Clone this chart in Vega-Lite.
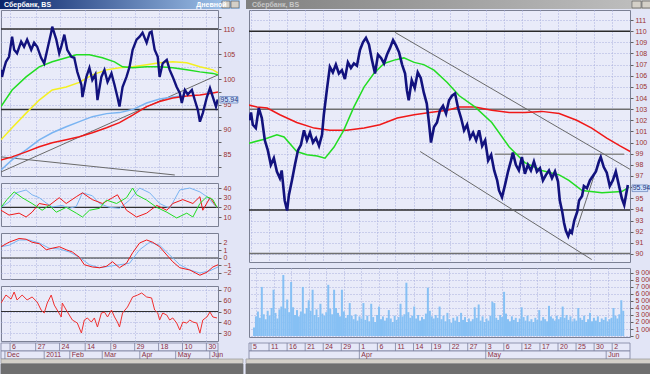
{
"$schema": "https://vega.github.io/schema/vega-lite/v6.json",
"background": "#e2e5f6",
"padding": 0,
"spacing": 1,
"config": {
  "view": {"fill": "#e9ebf9", "stroke": "#7b8094", "strokeWidth": 1},
  "axis": {"labelFont": "Liberation Sans", "labelFontSize": 7, "labelColor": "#9a3030", "tickColor": "#606060", "tickSize": 3, "domain": false, "gridColor": "#a9afdc", "gridDash": [1, 2], "gridWidth": 1, "labelPadding": 2, "title": null},
  "text": {"font": "Liberation Sans"}
},
"datasets": {
  "lh": [{"t":-6,"v":110,"g":"a"},{"t":123,"v":110,"g":"a"},{"t":-6,"v":94,"g":"b"},{"t":123,"v":94,"g":"b"}],
  "ltr": [{"t":-5.3,"v":81.6,"g":"c"},{"t":121.8,"v":100.9,"g":"c"},{"t":-5.3,"v":84.6,"g":"d"},{"t":96.5,"v":81.0,"g":"d"}],
  "lp": [{"t":-5.3,"v":101.9},{"t":-4.7,"v":100.5},{"t":-3.5,"v":102.2},{"t":-2.4,"v":103.5},{"t":-0.6,"v":104.5},{"t":1.2,"v":108.5},{"t":2.4,"v":105.9},{"t":4.1,"v":105.2},{"t":6.5,"v":107.5},{"t":8.2,"v":106.5},{"t":10.0,"v":107.9},{"t":12.4,"v":105.9},{"t":14.1,"v":107.3},{"t":15.9,"v":106.5},{"t":18.2,"v":104.3},{"t":20.0,"v":103.2},{"t":21.8,"v":105.9},{"t":24.1,"v":109.3},{"t":24.7,"v":110.5},{"t":27.1,"v":107.9},{"t":28.8,"v":105.2},{"t":30.0,"v":106.5},{"t":31.8,"v":108.9},{"t":33.5,"v":105.9},{"t":35.9,"v":104.5},{"t":37.6,"v":104.3},{"t":39.4,"v":101.5},{"t":41.8,"v":98.9},{"t":42.4,"v":96.5},{"t":44.7,"v":100.5},{"t":46.5,"v":102.3},{"t":48.2,"v":99.9},{"t":50.0,"v":101.0},{"t":51.2,"v":95.9},{"t":53.5,"v":100.5},{"t":55.3,"v":101.9},{"t":57.1,"v":99.5},{"t":59.4,"v":101.2},{"t":61.2,"v":98.9},{"t":62.9,"v":96.5},{"t":64.1,"v":94.6},{"t":65.9,"v":98.5},{"t":68.2,"v":100.5},{"t":70.0,"v":102.5},{"t":71.8,"v":105.9},{"t":74.1,"v":107.9},{"t":75.9,"v":108.5},{"t":77.6,"v":109.3},{"t":80.0,"v":107.3},{"t":81.8,"v":109.3},{"t":82.9,"v":109.5},{"t":84.7,"v":105.9},{"t":86.5,"v":104.5},{"t":87.6,"v":100.5},{"t":89.4,"v":103.2},{"t":91.8,"v":103.9},{"t":93.5,"v":101.9},{"t":95.3,"v":100.5},{"t":97.6,"v":98.5},{"t":99.4,"v":97.3},{"t":100.6,"v":95.3},{"t":102.4,"v":97.9},{"t":104.1,"v":97.0},{"t":106.5,"v":97.9},{"t":108.2,"v":95.9},{"t":110.0,"v":93.9},{"t":111.2,"v":91.6},{"t":112.9,"v":93.3},{"t":115.3,"v":96.5},{"t":117.1,"v":98.3},{"t":118.8,"v":96.5},{"t":120.6,"v":94.6},{"t":121.6,"v":96.0}],
  "lma": [
    {"s":"lb","t":-5.3,"v":82},{"s":"lb","t":1.2,"v":84},{"s":"lb","t":9.4,"v":86},{"s":"lb","t":17.1,"v":88},{"s":"lb","t":24.7,"v":89.4},{"s":"lb","t":32.9,"v":90.6},{"s":"lb","t":40.6,"v":91.6},{"s":"lb","t":48.2,"v":92.6},{"s":"lb","t":56.5,"v":93.2},{"s":"lb","t":64.1,"v":93.4},{"s":"lb","t":71.8,"v":94},{"s":"lb","t":80,"v":95.3},{"s":"lb","t":87.6,"v":96.1},{"s":"lb","t":95.3,"v":96.5},{"s":"lb","t":102.4,"v":96.8},
    {"s":"r","t":-5.3,"v":84},{"s":"r","t":1.2,"v":84.6},{"s":"r","t":9.4,"v":85.6},{"s":"r","t":17.1,"v":86.6},{"s":"r","t":24.7,"v":87.4},{"s":"r","t":32.9,"v":88},{"s":"r","t":40.6,"v":88.6},{"s":"r","t":48.2,"v":89.4},{"s":"r","t":56.5,"v":90.4},{"s":"r","t":64.1,"v":91.4},{"s":"r","t":71.8,"v":92.9},{"s":"r","t":80,"v":94.6},{"s":"r","t":87.6,"v":95.6},{"s":"r","t":95.3,"v":96.3},{"s":"r","t":103.5,"v":96.7},{"s":"r","t":111.2,"v":96.9},{"s":"r","t":118.8,"v":97.3},{"s":"r","t":121.8,"v":97.5},
    {"s":"y","t":-5.3,"v":88},{"s":"y","t":1.2,"v":90.4},{"s":"y","t":9.4,"v":93.3},{"s":"y","t":17.1,"v":95.9},{"s":"y","t":24.7,"v":97.9},{"s":"y","t":32.9,"v":98.5},{"s":"y","t":40.6,"v":99.4},{"s":"y","t":48.2,"v":100.9},{"s":"y","t":56.5,"v":101.9},{"s":"y","t":64.1,"v":102.3},{"s":"y","t":71.8,"v":102.5},{"s":"y","t":80,"v":102.9},{"s":"y","t":87.6,"v":103.3},{"s":"y","t":95.3,"v":103.5},{"s":"y","t":103.5,"v":103.3},{"s":"y","t":111.2,"v":102.5},{"s":"y","t":118.8,"v":101.9},{"s":"y","t":121.8,"v":101.3},
    {"s":"g","t":-5.3,"v":94.6},{"s":"g","t":1.2,"v":97.9},{"s":"g","t":9.4,"v":100.5},{"s":"g","t":17.1,"v":102.5},{"s":"g","t":24.7,"v":103.5},{"s":"g","t":32.9,"v":104.3},{"s":"g","t":38.8,"v":104.9},{"s":"g","t":46.5,"v":104.9},{"s":"g","t":54.1,"v":104.3},{"s":"g","t":61.2,"v":103.5},{"s":"g","t":65.9,"v":102.5},{"s":"g","t":71.8,"v":102.3},{"s":"g","t":80,"v":102.5},{"s":"g","t":87.6,"v":102.5},{"s":"g","t":95.3,"v":102.3},{"s":"g","t":103.5,"v":101.9},{"s":"g","t":111.2,"v":101.5},{"s":"g","t":118.8,"v":101.2},{"s":"g","t":121.8,"v":100.9}
  ],
  "rsi3": [
    {"s":"b","t":-5.3,"v":20},{"s":"b","t":-0.6,"v":25.5},{"s":"b","t":3.5,"v":35},{"s":"b","t":9.4,"v":38},{"s":"b","t":12.9,"v":33},{"s":"b","t":17.1,"v":30},{"s":"b","t":21.2,"v":24.5},{"s":"b","t":24.7,"v":20.4},{"s":"b","t":30.6,"v":22},{"s":"b","t":34.7,"v":19},{"s":"b","t":38.8,"v":21},{"s":"b","t":42.4,"v":35},{"s":"b","t":48.2,"v":32},{"s":"b","t":52.4,"v":24},{"s":"b","t":58.2,"v":20},{"s":"b","t":64.1,"v":19},{"s":"b","t":70,"v":27.5},{"s":"b","t":75.9,"v":40},{"s":"b","t":81.8,"v":35},{"s":"b","t":87.6,"v":24},{"s":"b","t":93.5,"v":19},{"s":"b","t":99.4,"v":38},{"s":"b","t":105.3,"v":40},{"s":"b","t":111.2,"v":36},{"s":"b","t":115.3,"v":31},{"s":"b","t":118.8,"v":24},{"s":"b","t":121.2,"v":20},
    {"s":"r","t":-5.3,"v":17},{"s":"r","t":-0.6,"v":12},{"s":"r","t":5.3,"v":14},{"s":"r","t":9.4,"v":10},{"s":"r","t":12.9,"v":15},{"s":"r","t":17.1,"v":24},{"s":"r","t":22.9,"v":22},{"s":"r","t":28.8,"v":30},{"s":"r","t":32.9,"v":24},{"s":"r","t":38.8,"v":31},{"s":"r","t":42.4,"v":35},{"s":"r","t":48.2,"v":28},{"s":"r","t":54.1,"v":24},{"s":"r","t":60,"v":30},{"s":"r","t":62.9,"v":33},{"s":"r","t":68.2,"v":17},{"s":"r","t":74.1,"v":10},{"s":"r","t":80,"v":14},{"s":"r","t":85.9,"v":22},{"s":"r","t":91.8,"v":17},{"s":"r","t":95.3,"v":24},{"s":"r","t":101.2,"v":28},{"s":"r","t":107.1,"v":24},{"s":"r","t":111.2,"v":31},{"s":"r","t":112.9,"v":17},{"s":"r","t":117.1,"v":30},{"s":"r","t":121.2,"v":20},
    {"s":"g","t":-5.3,"v":20},{"s":"g","t":-1.8,"v":28},{"s":"g","t":2.4,"v":36},{"s":"g","t":7.1,"v":30},{"s":"g","t":12.9,"v":24},{"s":"g","t":18.8,"v":17},{"s":"g","t":22.9,"v":22},{"s":"g","t":27.1,"v":15},{"s":"g","t":32.9,"v":20},{"s":"g","t":38.8,"v":14},{"s":"g","t":42.4,"v":10},{"s":"g","t":46.5,"v":17},{"s":"g","t":52.4,"v":19},{"s":"g","t":56.5,"v":27.5},{"s":"g","t":62.4,"v":24},{"s":"g","t":68.2,"v":30},{"s":"g","t":71.8,"v":40},{"s":"g","t":74.1,"v":33},{"s":"g","t":80,"v":27.5},{"s":"g","t":85.9,"v":20},{"s":"g","t":91.8,"v":15},{"s":"g","t":97.6,"v":9},{"s":"g","t":103.5,"v":14},{"s":"g","t":107.1,"v":10},{"s":"g","t":111.2,"v":24},{"s":"g","t":115.3,"v":31},{"s":"g","t":118.8,"v":28},{"s":"g","t":121.2,"v":20}
  ],
  "macd": [
    {"s":"b","t":-5.3,"v":1.5},{"s":"b","t":-0.6,"v":1.7},{"s":"b","t":5.3,"v":2.4},{"s":"b","t":11.2,"v":2.4},{"s":"b","t":17.1,"v":2.0},{"s":"b","t":22.9,"v":1.3},{"s":"b","t":28.8,"v":1.2},{"s":"b","t":34.7,"v":0.8},{"s":"b","t":40.6,"v":0.1},{"s":"b","t":46.5,"v":-0.9},{"s":"b","t":52.4,"v":-1.3},{"s":"b","t":58.2,"v":-1.1},{"s":"b","t":64.1,"v":-0.9},{"s":"b","t":70,"v":-0.7},{"s":"b","t":75.9,"v":1.1},{"s":"b","t":81.8,"v":2.1},{"s":"b","t":87.6,"v":1.7},{"s":"b","t":93.5,"v":0.4},{"s":"b","t":99.4,"v":-0.9},{"s":"b","t":105.3,"v":-1.6},{"s":"b","t":111.2,"v":-2.0},{"s":"b","t":117.1,"v":-1.7},{"s":"b","t":121.8,"v":-1.2},
    {"s":"r","t":-5.3,"v":1.5},{"s":"r","t":-0.6,"v":2.1},{"s":"r","t":5.3,"v":2.6},{"s":"r","t":9.4,"v":2.5},{"s":"r","t":12.9,"v":2.1},{"s":"r","t":17.1,"v":1.9},{"s":"r","t":21.2,"v":1.1},{"s":"r","t":24.7,"v":1.3},{"s":"r","t":28.8,"v":1.5},{"s":"r","t":32.9,"v":1.1},{"s":"r","t":36.5,"v":0.8},{"s":"r","t":40.6,"v":0.1},{"s":"r","t":43.5,"v":-0.9},{"s":"r","t":48.2,"v":-1.2},{"s":"r","t":52.4,"v":-1.3},{"s":"r","t":56.5,"v":-1.1},{"s":"r","t":60,"v":-0.5},{"s":"r","t":64.1,"v":-1.3},{"s":"r","t":68.2,"v":-0.7},{"s":"r","t":71.8,"v":0.7},{"s":"r","t":75.9,"v":2.0},{"s":"r","t":80,"v":2.4},{"s":"r","t":83.5,"v":2.1},{"s":"r","t":87.6,"v":1.5},{"s":"r","t":91.8,"v":0.4},{"s":"r","t":95.3,"v":-0.5},{"s":"r","t":99.4,"v":-1.3},{"s":"r","t":105.3,"v":-1.6},{"s":"r","t":111.2,"v":-2.3},{"s":"r","t":115.3,"v":-1.9},{"s":"r","t":118.8,"v":-1.2},{"s":"r","t":121.8,"v":-0.9}
  ],
  "rsi2": [{"t":-5.3,"v":57.9},{"t":-2.4,"v":65.3},{"t":0.6,"v":61.6},{"t":2.4,"v":68.1},{"t":4.1,"v":60.7},{"t":7.1,"v":65.3},{"t":10,"v":60.7},{"t":12.9,"v":63.5},{"t":15.9,"v":58.8},{"t":18.2,"v":51.4},{"t":20,"v":48.6},{"t":21.8,"v":57.9},{"t":24.1,"v":65.3},{"t":25.9,"v":56},{"t":27.6,"v":51.4},{"t":30,"v":44.9},{"t":30.6,"v":57.9},{"t":32.9,"v":51.4},{"t":34.7,"v":46.7},{"t":36.5,"v":42.1},{"t":39.4,"v":39.3},{"t":41.8,"v":30},{"t":43.5,"v":42.1},{"t":45.3,"v":44},{"t":47.6,"v":40.2},{"t":49.4,"v":44},{"t":51.2,"v":35.6},{"t":53.5,"v":48.6},{"t":55.3,"v":49.5},{"t":57.1,"v":44.9},{"t":59.4,"v":51.4},{"t":61.2,"v":44.9},{"t":62.9,"v":40.2},{"t":64.1,"v":35.6},{"t":65.9,"v":48.6},{"t":68.8,"v":54.2},{"t":71.8,"v":63.5},{"t":74.7,"v":65.3},{"t":77.1,"v":67.2},{"t":80,"v":63.5},{"t":82.9,"v":62.6},{"t":84.7,"v":51.4},{"t":86.5,"v":48.6},{"t":87.6,"v":42.1},{"t":89.4,"v":48.6},{"t":91.8,"v":46.7},{"t":93.5,"v":42.1},{"t":95.3,"v":44},{"t":97.6,"v":39.3},{"t":99.4,"v":32.8},{"t":101.2,"v":40.2},{"t":103.5,"v":39.3},{"t":105.3,"v":42.1},{"t":107.1,"v":40.2},{"t":109.4,"v":39.3},{"t":111.2,"v":30},{"t":112.9,"v":42.1},{"t":115.3,"v":44.9},{"t":117.1,"v":49.5},{"t":118.8,"v":44.9},{"t":121.2,"v":44}],
  "rp": [{"t":-0.3,"v":102.0},{"t":0,"v":102.7},{"t":0.3,"v":101.6},{"t":0.8,"v":101.3},{"t":1.3,"v":103.1},{"t":1.8,"v":102.2},{"t":2.3,"v":100.2},{"t":2.8,"v":99.3},{"t":3.3,"v":98.0},{"t":3.8,"v":98.6},{"t":4.3,"v":97.4},{"t":4.8,"v":96.8},{"t":5.1,"v":97.5},{"t":5.6,"v":94.8},{"t":6.0,"v":93.9},{"t":6.3,"v":95.3},{"t":6.8,"v":96.6},{"t":7.3,"v":98.0},{"t":7.8,"v":99.3},{"t":8.3,"v":99.8},{"t":8.8,"v":101.1},{"t":9.3,"v":100.2},{"t":9.8,"v":100.9},{"t":10.3,"v":100.0},{"t":10.8,"v":100.4},{"t":11.3,"v":99.7},{"t":11.8,"v":100.7},{"t":12.1,"v":102.5},{"t":12.6,"v":104.7},{"t":13.1,"v":106.8},{"t":13.6,"v":106.3},{"t":14.1,"v":107.0},{"t":14.6,"v":106.2},{"t":15.1,"v":106.5},{"t":15.6,"v":105.7},{"t":16.1,"v":107.2},{"t":16.6,"v":106.7},{"t":17.1,"v":107.1},{"t":17.6,"v":106.9},{"t":18.1,"v":108.3},{"t":18.6,"v":109.0},{"t":19.1,"v":109.4},{"t":19.6,"v":108.8},{"t":20.1,"v":107.4},{"t":20.6,"v":106.2},{"t":21.1,"v":107.9},{"t":21.6,"v":107.6},{"t":22.1,"v":107.1},{"t":22.6,"v":107.9},{"t":23.1,"v":108.5},{"t":23.6,"v":109.2},{"t":24.1,"v":108.7},{"t":24.6,"v":108.1},{"t":25.1,"v":107.0},{"t":25.6,"v":106.2},{"t":25.9,"v":104.7},{"t":26.2,"v":103.8},{"t":26.7,"v":105.6},{"t":27.2,"v":104.9},{"t":27.7,"v":106.3},{"t":28.2,"v":105.8},{"t":28.7,"v":104.5},{"t":29.2,"v":103.5},{"t":29.6,"v":101.6},{"t":29.9,"v":100.0},{"t":30.4,"v":101.4},{"t":30.9,"v":101.8},{"t":31.4,"v":102.9},{"t":31.9,"v":103.3},{"t":32.4,"v":102.6},{"t":32.9,"v":103.8},{"t":33.4,"v":104.2},{"t":33.9,"v":104.4},{"t":34.4,"v":103.1},{"t":34.9,"v":102.2},{"t":35.4,"v":101.1},{"t":35.9,"v":101.6},{"t":36.4,"v":100.4},{"t":36.9,"v":100.9},{"t":37.4,"v":100.2},{"t":37.9,"v":101.1},{"t":38.4,"v":99.7},{"t":38.9,"v":100.2},{"t":39.4,"v":98.4},{"t":39.9,"v":98.9},{"t":40.4,"v":97.5},{"t":40.9,"v":96.6},{"t":41.2,"v":95.7},{"t":41.7,"v":95.1},{"t":42.2,"v":96.2},{"t":42.7,"v":97.4},{"t":43.2,"v":98.4},{"t":43.5,"v":99.1},{"t":44.0,"v":98.0},{"t":44.5,"v":97.5},{"t":45.0,"v":98.7},{"t":45.5,"v":97.2},{"t":46.0,"v":98.0},{"t":46.5,"v":97.5},{"t":47.0,"v":98.3},{"t":47.5,"v":97.4},{"t":48.0,"v":97.7},{"t":48.5,"v":96.6},{"t":49.0,"v":97.1},{"t":49.5,"v":97.5},{"t":50.0,"v":96.8},{"t":50.5,"v":97.4},{"t":51.0,"v":96.5},{"t":51.3,"v":94.8},{"t":51.7,"v":93.8},{"t":52.0,"v":92.8},{"t":52.3,"v":92.1},{"t":52.7,"v":91.6},{"t":53.0,"v":92.1},{"t":53.3,"v":91.9},{"t":53.7,"v":93.0},{"t":54.2,"v":93.8},{"t":54.5,"v":94.8},{"t":55.0,"v":95.2},{"t":55.3,"v":96.1},{"t":55.8,"v":95.9},{"t":56.3,"v":96.6},{"t":56.8,"v":97.0},{"t":57.3,"v":97.4},{"t":57.8,"v":98.3},{"t":58.1,"v":98.7},{"t":58.6,"v":97.8},{"t":59.1,"v":97.3},{"t":59.6,"v":96.1},{"t":60.1,"v":96.6},{"t":60.6,"v":97.4},{"t":61.1,"v":96.2},{"t":61.6,"v":95.0},{"t":62.0,"v":94.4},{"t":62.3,"v":95.3},{"t":62.6,"v":96.2}],
  "rma": [
    {"s":"r","t":-0.66,"v":103.4},{"s":"r","t":1.0,"v":103.2},{"s":"r","t":2.7,"v":103.1},{"s":"r","t":4.8,"v":102.5},{"s":"r","t":7.6,"v":101.8},{"s":"r","t":10.5,"v":101.3},{"s":"r","t":13.1,"v":101.1},{"s":"r","t":15.9,"v":101.1},{"s":"r","t":18.8,"v":101.3},{"s":"r","t":21.4,"v":101.6},{"s":"r","t":24.3,"v":102.2},{"s":"r","t":27.1,"v":102.5},{"s":"r","t":29.7,"v":102.7},{"s":"r","t":32.6,"v":102.9},{"s":"r","t":34.6,"v":103.2},{"s":"r","t":37.2,"v":103.2},{"s":"r","t":40.0,"v":102.9},{"s":"r","t":42.9,"v":102.7},{"s":"r","t":45.5,"v":102.7},{"s":"r","t":48.3,"v":102.8},{"s":"r","t":51.2,"v":102.6},{"s":"r","t":54.1,"v":102.0},{"s":"r","t":56.6,"v":101.3},{"s":"r","t":59.1,"v":100.4},{"s":"r","t":61.3,"v":99.7},{"s":"r","t":63.0,"v":99.2},
    {"s":"g","t":-0.66,"v":99.9},{"s":"g","t":2.2,"v":100.3},{"s":"g","t":4.3,"v":100.7},{"s":"g","t":5.5,"v":100.5},{"s":"g","t":7.6,"v":99.2},{"s":"g","t":9.3,"v":98.9},{"s":"g","t":11.0,"v":98.8},{"s":"g","t":12.3,"v":98.6},{"s":"g","t":13.8,"v":99.6},{"s":"g","t":15.4,"v":101.1},{"s":"g","t":17.1,"v":103.2},{"s":"g","t":18.8,"v":105.0},{"s":"g","t":20.4,"v":106.2},{"s":"g","t":22.1,"v":107.1},{"s":"g","t":23.8,"v":107.4},{"s":"g","t":25.4,"v":107.6},{"s":"g","t":27.1,"v":107.2},{"s":"g","t":28.7,"v":107.0},{"s":"g","t":30.4,"v":106.5},{"s":"g","t":32.6,"v":105.4},{"s":"g","t":34.6,"v":104.2},{"s":"g","t":37.2,"v":103.2},{"s":"g","t":40.0,"v":101.8},{"s":"g","t":42.9,"v":99.6},{"s":"g","t":45.5,"v":98.2},{"s":"g","t":48.3,"v":97.5},{"s":"g","t":51.2,"v":97.1},{"s":"g","t":52.8,"v":96.6},{"s":"g","t":55.0,"v":95.7},{"s":"g","t":58.3,"v":95.5},{"s":"g","t":61.6,"v":95.6},{"s":"g","t":62.8,"v":96.0}
  ],
  "rh": [{"t":-1,"v":110,"g":"a","c":"#2a2a2a"},{"t":64,"v":110,"g":"a","c":"#2a2a2a"},{"t":-1,"v":103,"g":"b","c":"#707070"},{"t":64,"v":103,"g":"b","c":"#707070"},{"t":-1,"v":93.95,"g":"c","c":"#2a2a2a"},{"t":64,"v":93.95,"g":"c","c":"#2a2a2a"},{"t":-1,"v":90.05,"g":"d","c":"#707070"},{"t":64,"v":90.05,"g":"d","c":"#707070"},{"t":40.5,"v":98.95,"g":"e","c":"#8a8a8a"},{"t":62,"v":98.95,"g":"e","c":"#8a8a8a"}],
  "rtr": [{"t":23.9,"v":109.9,"g":"u"},{"t":62.96,"v":97.6,"g":"u"},{"t":28.1,"v":99.2,"g":"l"},{"t":56.6,"v":89.5,"g":"l"},{"t":54.2,"v":92.4,"g":"s"},{"t":58.0,"v":98.7,"g":"s"}],
  "vol": [{"k":-1,"v":1.2},{"k":0,"v":2.8},{"k":1,"v":3.5},{"k":2,"v":2.6},{"k":3,"v":7.0},{"k":4,"v":3.1},{"k":5,"v":2.4},{"k":6,"v":3.6},{"k":7,"v":2.9},{"k":8,"v":4.0},{"k":9,"v":6.6},{"k":10,"v":3.3},{"k":11,"v":2.5},{"k":12,"v":3.8},{"k":13,"v":4.2},{"k":14,"v":8.7},{"k":15,"v":3.9},{"k":16,"v":5.2},{"k":17,"v":3.4},{"k":18,"v":7.7},{"k":19,"v":4.1},{"k":20,"v":3.0},{"k":21,"v":3.7},{"k":22,"v":2.8},{"k":23,"v":3.5},{"k":24,"v":7.0},{"k":25,"v":3.2},{"k":26,"v":4.0},{"k":27,"v":5.1},{"k":28,"v":3.6},{"k":29,"v":6.6},{"k":30,"v":3.0},{"k":31,"v":3.8},{"k":32,"v":2.7},{"k":33,"v":4.6},{"k":34,"v":3.2},{"k":35,"v":2.9},{"k":36,"v":3.4},{"k":37,"v":7.3},{"k":38,"v":3.9},{"k":39,"v":3.1},{"k":40,"v":6.6},{"k":41,"v":4.0},{"k":42,"v":3.3},{"k":43,"v":2.8},{"k":44,"v":6.6},{"k":45,"v":3.5},{"k":46,"v":2.6},{"k":47,"v":3.0},{"k":48,"v":4.7},{"k":49,"v":2.9},{"k":50,"v":2.4},{"k":51,"v":3.1},{"k":52,"v":2.2},{"k":53,"v":2.8},{"k":54,"v":2.5},{"k":55,"v":4.7},{"k":56,"v":2.3},{"k":57,"v":2.9},{"k":58,"v":2.1},{"k":59,"v":4.6},{"k":60,"v":2.7},{"k":61,"v":2.0},{"k":62,"v":3.0},{"k":63,"v":4.2},{"k":64,"v":2.4},{"k":65,"v":2.8},{"k":66,"v":2.2},{"k":67,"v":2.6},{"k":68,"v":3.7},{"k":69,"v":2.5},{"k":70,"v":2.0},{"k":71,"v":2.9},{"k":72,"v":2.3},{"k":73,"v":2.7},{"k":74,"v":4.6},{"k":75,"v":2.8},{"k":76,"v":3.1},{"k":77,"v":7.6},{"k":78,"v":3.4},{"k":79,"v":2.6},{"k":80,"v":2.9},{"k":81,"v":4.2},{"k":82,"v":2.5},{"k":83,"v":3.0},{"k":84,"v":2.2},{"k":85,"v":2.7},{"k":86,"v":2.4},{"k":87,"v":3.2},{"k":88,"v":6.9},{"k":89,"v":3.6},{"k":90,"v":2.8},{"k":91,"v":2.5},{"k":92,"v":3.0},{"k":93,"v":2.6},{"k":94,"v":4.2},{"k":95,"v":2.4},{"k":96,"v":2.9},{"k":97,"v":2.1},{"k":98,"v":3.3},{"k":99,"v":2.4},{"k":100,"v":1.9},{"k":101,"v":2.6},{"k":102,"v":2.2},{"k":103,"v":2.8},{"k":104,"v":2.0},{"k":105,"v":3.3},{"k":106,"v":2.3},{"k":107,"v":2.7},{"k":108,"v":2.0},{"k":109,"v":2.5},{"k":110,"v":2.1},{"k":111,"v":2.4},{"k":112,"v":4.1},{"k":113,"v":2.6},{"k":114,"v":4.5},{"k":115,"v":2.2},{"k":116,"v":2.8},{"k":117,"v":2.0},{"k":118,"v":2.5},{"k":119,"v":2.2},{"k":120,"v":2.9},{"k":121,"v":4.9},{"k":122,"v":4.7},{"k":123,"v":2.6},{"k":124,"v":2.3},{"k":125,"v":3.0},{"k":126,"v":2.7},{"k":127,"v":6.3},{"k":128,"v":3.2},{"k":129,"v":2.4},{"k":130,"v":2.1},{"k":131,"v":2.8},{"k":132,"v":2.3},{"k":133,"v":2.6},{"k":134,"v":2.0},{"k":135,"v":2.5},{"k":136,"v":4.1},{"k":137,"v":2.7},{"k":138,"v":2.2},{"k":139,"v":2.9},{"k":140,"v":2.1},{"k":141,"v":2.4},{"k":142,"v":2.0},{"k":143,"v":2.6},{"k":144,"v":2.3},{"k":145,"v":3.7},{"k":146,"v":2.2},{"k":147,"v":2.7},{"k":148,"v":2.4},{"k":149,"v":2.1},{"k":150,"v":4.3},{"k":151,"v":2.8},{"k":152,"v":2.5},{"k":153,"v":2.2},{"k":154,"v":2.9},{"k":155,"v":2.4},{"k":156,"v":2.7},{"k":157,"v":4.2},{"k":158,"v":2.6},{"k":159,"v":3.0},{"k":160,"v":2.3},{"k":161,"v":2.8},{"k":162,"v":2.1},{"k":163,"v":2.5},{"k":164,"v":2.2},{"k":165,"v":4.0},{"k":166,"v":2.6},{"k":167,"v":2.3},{"k":168,"v":2.9},{"k":169,"v":2.0},{"k":170,"v":2.4},{"k":171,"v":3.3},{"k":172,"v":2.1},{"k":173,"v":2.6},{"k":174,"v":2.2},{"k":175,"v":2.8},{"k":176,"v":2.0},{"k":177,"v":2.5},{"k":178,"v":2.3},{"k":179,"v":2.7},{"k":180,"v":2.1},{"k":181,"v":2.4},{"k":182,"v":2.6},{"k":183,"v":4.0},{"k":184,"v":2.9},{"k":185,"v":2.5},{"k":186,"v":3.1},{"k":187,"v":5.1},{"k":188,"v":3.6}],
  "lsr": [{"t":-5.3,"t2":121.8,"y":1,"y2":9,"c":"#e6e8f8","sc":"#7c82a0"},{"t":-5.3,"t2":121.8,"y":9,"y2":17,"c":"#e6e8f8","sc":"#7c82a0"},{"t":-5.3,"t2":136.44,"y":17,"y2":21.5,"c":"#d4d0c8","sc":"#a0a0a0"},{"t":-5.3,"t2":136.44,"y":22,"y2":32,"c":"#6f6f6f","sc":"#6f6f6f"}],
  "lss": [{"t":0,"y":1,"y2":9},{"t":15,"y":1,"y2":9},{"t":29,"y":1,"y2":9},{"t":44,"y":1,"y2":9},{"t":59,"y":1,"y2":9},{"t":73,"y":1,"y2":9},{"t":87,"y":1,"y2":9},{"t":101,"y":1,"y2":9},{"t":115,"y":1,"y2":9},{"t":-3,"y":9,"y2":17},{"t":20,"y":9,"y2":17},{"t":35,"y":9,"y2":17},{"t":54,"y":9,"y2":17},{"t":76,"y":9,"y2":17},{"t":97,"y":9,"y2":17},{"t":117,"y":9,"y2":17}],
  "lst": [{"t":0,"y":5,"txt":"6"},{"t":15,"y":5,"txt":"27"},{"t":29,"y":5,"txt":"24"},{"t":44,"y":5,"txt":"14"},{"t":59,"y":5,"txt":"9"},{"t":73,"y":5,"txt":"29"},{"t":87,"y":5,"txt":"18"},{"t":101,"y":5,"txt":"10"},{"t":115,"y":5,"txt":"30"},{"t":-3,"y":13,"txt":"Dec"},{"t":20,"y":13,"txt":"2011"},{"t":35,"y":13,"txt":"Feb"},{"t":54,"y":13,"txt":"Mar"},{"t":76,"y":13,"txt":"Apr"},{"t":97,"y":13,"txt":"May"},{"t":117,"y":13,"txt":"Jun"}],
  "rsr": [{"t":-0.33,"t2":62.96,"y":1,"y2":9,"c":"#e6e8f8","sc":"#7c82a0"},{"t":-0.33,"t2":62.96,"y":9,"y2":17,"c":"#e6e8f8","sc":"#7c82a0"},{"t":-0.83,"t2":66.61,"y":17,"y2":21.5,"c":"#d4d0c8","sc":"#a0a0a0"},{"t":-0.83,"t2":66.61,"y":22,"y2":32,"c":"#6f6f6f","sc":"#6f6f6f"}],
  "rss": [{"t":0,"y":1,"y2":9},{"t":3,"y":1,"y2":9},{"t":6,"y":1,"y2":9},{"t":9,"y":1,"y2":9},{"t":12,"y":1,"y2":9},{"t":15,"y":1,"y2":9},{"t":18,"y":1,"y2":9},{"t":21,"y":1,"y2":9},{"t":24,"y":1,"y2":9},{"t":27,"y":1,"y2":9},{"t":30,"y":1,"y2":9},{"t":33,"y":1,"y2":9},{"t":36,"y":1,"y2":9},{"t":39,"y":1,"y2":9},{"t":42,"y":1,"y2":9},{"t":45,"y":1,"y2":9},{"t":48,"y":1,"y2":9},{"t":51,"y":1,"y2":9},{"t":54,"y":1,"y2":9},{"t":57,"y":1,"y2":9},{"t":60,"y":1,"y2":9},{"t":18,"y":9,"y2":17},{"t":39,"y":9,"y2":17},{"t":59,"y":9,"y2":17}],
  "rst": [{"t":0,"y":5,"txt":"5"},{"t":3,"y":5,"txt":"11"},{"t":6,"y":5,"txt":"16"},{"t":9,"y":5,"txt":"21"},{"t":12,"y":5,"txt":"24"},{"t":15,"y":5,"txt":"29"},{"t":18,"y":5,"txt":"1"},{"t":21,"y":5,"txt":"6"},{"t":24,"y":5,"txt":"11"},{"t":27,"y":5,"txt":"14"},{"t":30,"y":5,"txt":"19"},{"t":33,"y":5,"txt":"22"},{"t":36,"y":5,"txt":"27"},{"t":39,"y":5,"txt":"3"},{"t":42,"y":5,"txt":"6"},{"t":45,"y":5,"txt":"12"},{"t":48,"y":5,"txt":"17"},{"t":51,"y":5,"txt":"20"},{"t":54,"y":5,"txt":"25"},{"t":57,"y":5,"txt":"30"},{"t":60,"y":5,"txt":"2"},{"t":18,"y":13,"txt":"Apr"},{"t":39,"y":13,"txt":"May"},{"t":59,"y":13,"txt":"Jun"}]
},
"hconcat": [
  {
    "vconcat": [
      {
        "width": 217, "height": 9,
        "view": {"stroke": null, "fill": null},
        "layer": [
          {"data": {"values": [{"a": -0.0046, "b": 1.1014}]},
           "mark": {"type": "rect", "color": {"gradient": "linear", "x1": 0, "x2": 1, "y1": 0, "y2": 0, "stops": [{"offset": 0, "color": "#0a246a"}, {"offset": 1, "color": "#a6caf0"}]}},
           "encoding": {"x": {"field": "a", "type": "quantitative", "scale": {"domain": [0, 1]}, "axis": null}, "x2": {"field": "b"}, "y": {"datum": 0, "type": "quantitative", "scale": {"domain": [0, 1]}, "axis": null}, "y2": {"datum": 1}}},
          {"data": {"values": [{"a": 1.018, "b": 1.055}, {"a": 1.06, "b": 1.097}]},
           "mark": {"type": "rect", "color": "#d4d0c8", "stroke": "#404040", "strokeWidth": 0.5},
           "encoding": {"x": {"field": "a", "type": "quantitative", "scale": {"domain": [0, 1]}, "axis": null}, "x2": {"field": "b"}, "y": {"datum": 0.12, "type": "quantitative", "scale": {"domain": [0, 1]}, "axis": null}, "y2": {"datum": 0.88}}},
          {"data": {"values": [{"a": 0.014, "txt": "Сбербанк, BS"}, {"a": 0.9, "txt": "Дневной"}]},
           "mark": {"type": "text", "align": "left", "baseline": "middle", "fontSize": 7, "fontWeight": "bold", "color": "#ffffff"},
           "encoding": {"x": {"field": "a", "type": "quantitative", "scale": {"domain": [0, 1]}, "axis": null}, "y": {"datum": 0.5, "type": "quantitative", "scale": {"domain": [0, 1]}, "axis": null}, "text": {"field": "txt"}}}
        ]
      },
      {
        "width": 217, "height": 166,
        "encoding": {
          "x": {"field": "t", "type": "quantitative", "scale": {"domain": [-5.3, 121.8], "nice": false, "zero": false}, "axis": {"values": [0, 15, 29, 44, 59, 73, 87, 101, 115], "labels": false, "ticks": false, "grid": true}},
          "y": {"field": "v", "type": "quantitative", "scale": {"domain": [80.8, 113.8], "nice": false, "zero": false}, "axis": {"orient": "right", "values": [82.5, 85, 87.5, 90, 92.5, 95, 97.5, 100, 102.5, 105, 107.5, 110, 112.5], "labelExpr": "datum.value % 5 == 0 ? datum.label : ''", "grid": true}}
        },
        "layer": [
          {"data": {"name": "lh"}, "mark": {"type": "line", "clip": true, "color": "#303030", "strokeWidth": 1.5}, "encoding": {"detail": {"field": "g"}}},
          {"data": {"name": "ltr"}, "mark": {"type": "line", "clip": true, "color": "#6a6a6a", "strokeWidth": 1}, "encoding": {"detail": {"field": "g"}}},
          {"data": {"name": "lma"}, "mark": {"type": "line", "clip": true, "strokeWidth": 1.5}, "encoding": {"color": {"field": "s", "type": "nominal", "scale": {"domain": ["lb", "r", "y", "g"], "range": ["#7ab4f2", "#f01818", "#f4f020", "#22dd22"]}, "legend": null}}},
          {"data": {"name": "lp"}, "mark": {"type": "line", "clip": true, "color": "#12127e", "strokeWidth": 2.4}},
          {"data": {"values": [{"t": 122.9, "t2": 133.5, "v": 96.6, "v2": 95.3}]}, "mark": {"type": "rect", "clip": false, "fill": "#cfe0fa", "stroke": "#5070b0", "strokeWidth": 0.6}, "encoding": {"x2": {"field": "t2"}, "y2": {"field": "v2"}}},
          {"data": {"values": [{"t": 123.3, "v": 95.94, "txt": "95.94"}]}, "mark": {"type": "text", "clip": false, "align": "left", "baseline": "middle", "fontSize": 7, "color": "#203080"}, "encoding": {"text": {"field": "txt"}}}
        ]
      },
      {"width": 217, "height": 5, "view": {"stroke": null, "fill": null}, "data": {"values": [{"a": 0}]}, "mark": {"type": "point", "opacity": 0}},
      {
        "width": 217, "height": 43,
        "encoding": {
          "x": {"field": "t", "type": "quantitative", "scale": {"domain": [-5.3, 121.8], "nice": false, "zero": false}, "axis": {"values": [0, 15, 29, 44, 59, 73, 87, 101, 115], "labels": false, "ticks": false, "grid": true}},
          "y": {"field": "v", "type": "quantitative", "scale": {"domain": [0.7, 45.2], "nice": false, "zero": false}, "axis": {"orient": "right", "values": [10, 20, 30, 40], "grid": true}}
        },
        "layer": [
          {"data": {"values": [{"t": -6, "v": 20}, {"t": 123, "v": 20}]}, "mark": {"type": "line", "clip": true, "color": "#303030", "strokeWidth": 1.2}},
          {"data": {"name": "rsi3"}, "mark": {"type": "line", "clip": true, "strokeWidth": 1}, "encoding": {"color": {"field": "s", "type": "nominal", "scale": {"domain": ["b", "r", "g"], "range": ["#4a4af0", "#f04040", "#2a9a2a"]}, "legend": null}}}
        ]
      },
      {"width": 217, "height": 5, "view": {"stroke": null, "fill": null}, "data": {"values": [{"a": 0}]}, "mark": {"type": "point", "opacity": 0}},
      {
        "width": 217, "height": 46,
        "encoding": {
          "x": {"field": "t", "type": "quantitative", "scale": {"domain": [-5.3, 121.8], "nice": false, "zero": false}, "axis": {"values": [0, 15, 29, 44, 59, 73, 87, 101, 115], "labels": false, "ticks": false, "grid": true}},
          "y": {"field": "v", "type": "quantitative", "scale": {"domain": [-2.8, 3.33], "nice": false, "zero": false}, "axis": {"orient": "right", "values": [-2, -1, 0, 1, 2], "grid": true}}
        },
        "layer": [
          {"data": {"values": [{"t": -6, "v": 0}, {"t": 123, "v": 0}]}, "mark": {"type": "line", "clip": true, "color": "#303030", "strokeWidth": 1.2}},
          {"data": {"name": "macd"}, "mark": {"type": "line", "clip": true, "strokeWidth": 1}, "encoding": {"color": {"field": "s", "type": "nominal", "scale": {"domain": ["b", "r"], "range": ["#5aaaf0", "#f03030"]}, "legend": null}}}
        ]
      },
      {"width": 217, "height": 5, "view": {"stroke": null, "fill": null}, "data": {"values": [{"a": 0}]}, "mark": {"type": "point", "opacity": 0}},
      {
        "width": 217, "height": 55,
        "encoding": {
          "x": {"field": "t", "type": "quantitative", "scale": {"domain": [-5.3, 121.8], "nice": false, "zero": false}, "axis": {"values": [0, 15, 29, 44, 59, 73, 87, 101, 115], "labels": false, "ticks": false, "grid": true}},
          "y": {"field": "v", "type": "quantitative", "scale": {"domain": [22.6, 73.7], "nice": false, "zero": false}, "axis": {"orient": "right", "values": [30, 40, 50, 60, 70], "grid": true}}
        },
        "layer": [
          {"data": {"values": [{"t": -6, "v": 50}, {"t": 123, "v": 50}]}, "mark": {"type": "line", "clip": true, "color": "#303030", "strokeWidth": 1.2}},
          {"data": {"name": "rsi2"}, "mark": {"type": "line", "clip": true, "strokeWidth": 1, "color": "#f03030"}}
        ]
      },
      {
        "width": 217, "height": 32,
        "view": {"stroke": null, "fill": null},
        "encoding": {
          "x": {"field": "t", "type": "quantitative", "scale": {"domain": [-5.3, 121.8], "nice": false, "zero": false}, "axis": null},
          "y": {"field": "y", "type": "quantitative", "scale": {"domain": [0, 32], "reverse": true, "nice": false, "zero": false}, "axis": null}
        },
        "layer": [
          {"data": {"name": "lsr"}, "mark": {"type": "rect", "clip": false, "strokeWidth": 0.8}, "encoding": {"x2": {"field": "t2"}, "y2": {"field": "y2"}, "fill": {"field": "c", "type": "nominal", "scale": null}, "stroke": {"field": "sc", "type": "nominal", "scale": null}}},
          {"data": {"name": "lss"}, "mark": {"type": "rule", "color": "#7c82a0", "strokeWidth": 0.8}, "encoding": {"y2": {"field": "y2"}}},
          {"data": {"name": "lst"}, "mark": {"type": "text", "align": "left", "baseline": "middle", "dx": 2, "fontSize": 7, "color": "#8b2f3f"}, "encoding": {"text": {"field": "txt"}}}
        ]
      }
    ],
    "spacing": 1,
    "bounds": "flush"
  },
  {
    "vconcat": [
      {
        "width": 381, "height": 9,
        "view": {"stroke": null, "fill": null},
        "layer": [
          {"data": {"values": [{"a": -0.00787, "b": 1.0577}]},
           "mark": {"type": "rect", "color": {"gradient": "linear", "x1": 0, "x2": 1, "y1": 0, "y2": 0, "stops": [{"offset": 0, "color": "#808080"}, {"offset": 1, "color": "#c0c0c0"}]}},
           "encoding": {"x": {"field": "a", "type": "quantitative", "scale": {"domain": [0, 1]}, "axis": null}, "x2": {"field": "b"}, "y": {"datum": 0, "type": "quantitative", "scale": {"domain": [0, 1]}, "axis": null}, "y2": {"datum": 1}}},
          {"data": {"values": [{"a": 1.0052, "b": 1.029}, {"a": 1.0315, "b": 1.055}]},
           "mark": {"type": "rect", "color": "#d4d0c8", "stroke": "#404040", "strokeWidth": 0.5},
           "encoding": {"x": {"field": "a", "type": "quantitative", "scale": {"domain": [0, 1]}, "axis": null}, "x2": {"field": "b"}, "y": {"datum": 0.12, "type": "quantitative", "scale": {"domain": [0, 1]}, "axis": null}, "y2": {"datum": 0.88}}},
          {"data": {"values": [{"a": 0.008, "txt": "Сбербанк, BS"}]},
           "mark": {"type": "text", "align": "left", "baseline": "middle", "fontSize": 7, "fontWeight": "bold", "color": "#c8c8c8"},
           "encoding": {"x": {"field": "a", "type": "quantitative", "scale": {"domain": [0, 1]}, "axis": null}, "y": {"datum": 0.5, "type": "quantitative", "scale": {"domain": [0, 1]}, "axis": null}, "text": {"field": "txt"}}}
        ]
      },
      {
        "width": 381, "height": 252,
        "encoding": {
          "x": {"field": "t", "type": "quantitative", "scale": {"domain": [-0.33, 62.96], "nice": false, "zero": false}, "axis": {"values": [0, 3, 6, 9, 12, 15, 18, 21, 24, 27, 30, 33, 36, 39, 42, 45, 48, 51, 54, 57, 60], "labels": false, "ticks": false, "grid": true}},
          "y": {"field": "v", "type": "quantitative", "scale": {"domain": [89.28, 111.9], "nice": false, "zero": false}, "axis": {"orient": "right", "values": [90, 91, 92, 93, 94, 95, 96, 97, 98, 99, 100, 101, 102, 103, 104, 105, 106, 107, 108, 109, 110, 111], "grid": true}}
        },
        "layer": [
          {"data": {"name": "rh"}, "mark": {"type": "line", "clip": true, "strokeWidth": 1.5}, "encoding": {"detail": {"field": "g"}, "color": {"field": "c", "type": "nominal", "scale": null}}},
          {"data": {"name": "rtr"}, "mark": {"type": "line", "clip": true, "color": "#6a6a6a", "strokeWidth": 1}, "encoding": {"detail": {"field": "g"}}},
          {"data": {"name": "rma"}, "mark": {"type": "line", "clip": true, "strokeWidth": 1.5}, "encoding": {"color": {"field": "s", "type": "nominal", "scale": {"domain": ["r", "g"], "range": ["#f01c1c", "#22e022"]}, "legend": null}}},
          {"data": {"name": "rp"}, "mark": {"type": "line", "clip": true, "color": "#12127e", "strokeWidth": 2.6}},
          {"data": {"values": [{"t": 63.3, "t2": 65.9, "v": 96.2, "v2": 95.6}]}, "mark": {"type": "rect", "clip": false, "fill": "#cfe0fa", "stroke": "#5070b0", "strokeWidth": 0.6}, "encoding": {"x2": {"field": "t2"}, "y2": {"field": "v2"}}},
          {"data": {"values": [{"t": 63.4, "v": 95.9, "txt": "95.94"}]}, "mark": {"type": "text", "clip": false, "align": "left", "baseline": "middle", "fontSize": 7, "color": "#203080"}, "encoding": {"text": {"field": "txt"}}}
        ]
      },
      {"width": 381, "height": 4, "view": {"stroke": null, "fill": null}, "data": {"values": [{"a": 0}]}, "mark": {"type": "point", "opacity": 0}},
      {
        "width": 381, "height": 69,
        "data": {"name": "vol"},
        "mark": {"type": "bar", "size": 2, "color": "#86c0f4"},
        "encoding": {
          "x": {"field": "k", "type": "quantitative", "scale": {"domain": [-1, 188.9], "nice": false, "zero": false}, "axis": {"values": [0, 9, 18, 27, 36, 45, 54, 63, 72, 81, 90, 99, 108, 117, 126, 135, 144, 153, 162, 171, 180], "labels": false, "ticks": false, "grid": true}},
          "y": {"field": "v", "type": "quantitative", "scale": {"domain": [-0.14, 9.7], "nice": false, "zero": false}, "axis": {"orient": "right", "values": [0, 1, 2, 3, 4, 5, 6, 7, 8, 9], "labelExpr": "datum.value == 0 ? '0' : datum.value + ' 000 000'", "grid": true}}
        }
      },
      {"width": 381, "height": 3, "view": {"stroke": null, "fill": null}, "data": {"values": [{"a": 0}]}, "mark": {"type": "point", "opacity": 0}},
      {
        "width": 381, "height": 32,
        "view": {"stroke": null, "fill": null},
        "encoding": {
          "x": {"field": "t", "type": "quantitative", "scale": {"domain": [-0.33, 62.96], "nice": false, "zero": false}, "axis": null},
          "y": {"field": "y", "type": "quantitative", "scale": {"domain": [0, 32], "reverse": true, "nice": false, "zero": false}, "axis": null}
        },
        "layer": [
          {"data": {"name": "rsr"}, "mark": {"type": "rect", "clip": false, "strokeWidth": 0.8}, "encoding": {"x2": {"field": "t2"}, "y2": {"field": "y2"}, "fill": {"field": "c", "type": "nominal", "scale": null}, "stroke": {"field": "sc", "type": "nominal", "scale": null}}},
          {"data": {"name": "rss"}, "mark": {"type": "rule", "color": "#7c82a0", "strokeWidth": 0.8}, "encoding": {"y2": {"field": "y2"}}},
          {"data": {"name": "rst"}, "mark": {"type": "text", "align": "left", "baseline": "middle", "dx": 2, "fontSize": 7, "color": "#8b2f3f"}, "encoding": {"text": {"field": "txt"}}}
        ]
      }
    ],
    "spacing": 1,
    "bounds": "flush"
  }
]
}
